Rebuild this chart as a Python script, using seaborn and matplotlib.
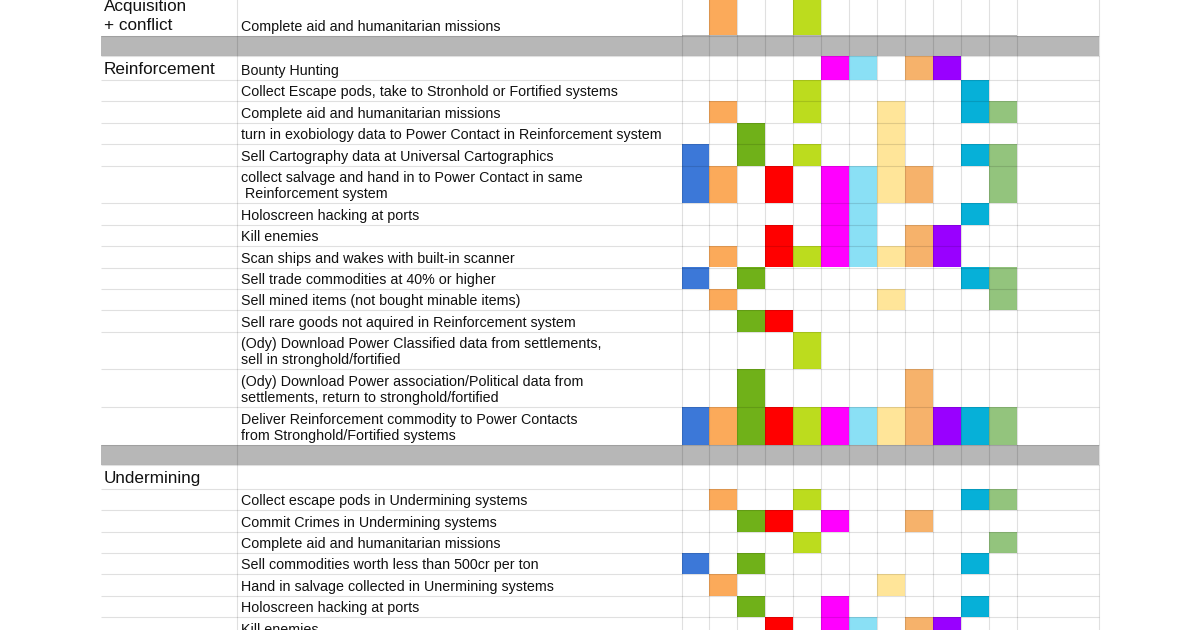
import numpy as np
import matplotlib
matplotlib.use("Agg")
import matplotlib.pyplot as plt
from matplotlib.colors import ListedColormap
import seaborn as sns

# one colour per activity column (12 filled columns, then an empty wide one)
col_colors = ["#3c78d8", "#fbaa5a", "#70b119", "#ff0000", "#bcdc1e", "#ff00ff",
              "#8ae0f5", "#ffe599", "#f6b26b", "#9900ff", "#06b0d8", "#93c47d"]
SEP_COLOR = "#b7b7b7"

# None label = grey separator row
row_groups = [
    "Acquisition\n+ conflict", "",
    "Reinforcement", "", "", "", "", "", "", "", "", "", "", "", "", "", "",
    "",
    "Undermining", "", "", "", "", "", "", "",
]
row_labels = [
    "Complete aid and humanitarian missions",
    None,
    "Bounty Hunting",
    "Collect Escape pods, take to Stronhold or Fortified systems",
    "Complete aid and humanitarian missions",
    "turn in exobiology data to Power Contact in Reinforcement system",
    "Sell Cartography data at Universal Cartographics",
    "collect salvage and hand in to Power Contact in same\n Reinforcement system",
    "Holoscreen hacking at ports",
    "Kill enemies",
    "Scan ships and wakes with built-in scanner",
    "Sell trade commodities at 40% or higher",
    "Sell mined items (not bought minable items)",
    "Sell rare goods not aquired in Reinforcement system",
    "(Ody) Download Power Classified data from settlements,\nsell in stronghold/fortified",
    "(Ody) Download Power association/Political data from\nsettlements, return to stronghold/fortified",
    "Deliver Reinforcement commodity to Power Contacts\nfrom Stronghold/Fortified systems",
    None,
    "",
    "Collect escape pods in Undermining systems",
    "Commit Crimes in Undermining systems",
    "Complete aid and humanitarian missions",
    "Sell commodities worth less than 500cr per ton",
    "Hand in salvage collected in Unermining systems",
    "Holoscreen hacking at ports",
    "Kill enemies",
]
# filled columns per row (1..12)
row_cells = [
    [2, 5],
    [],
    [6, 7, 9, 10],
    [5, 11],
    [2, 5, 8, 11, 12],
    [3, 8],
    [1, 3, 5, 8, 11, 12],
    [1, 2, 4, 6, 7, 8, 9, 12],
    [6, 7, 11],
    [4, 6, 7, 9, 10],
    [2, 4, 5, 6, 7, 8, 9, 10],
    [1, 3, 11, 12],
    [2, 8, 12],
    [3, 4],
    [5],
    [3, 9],
    [1, 2, 3, 4, 5, 6, 7, 8, 9, 10, 11, 12],
    [],
    [],
    [2, 5, 11, 12],
    [3, 4, 6, 9],
    [5, 12],
    [1, 3, 11],
    [2, 8],
    [3, 6, 11],
    [4, 6, 7, 9, 10],
]

# layout (pixels)
W, H = 1200, 630
row_heights = [37.5, 20.5, 24] + [21.4] * 4 + [37.7] + [21.4] * 6 + [37.7] * 3 \
    + [20.5, 23.5] + [21.4] * 7
Y0 = -2.0
X_LEFT, X_B, X_GRID0, X_GRID1, X_RIGHT = 101, 237, 681.5, 1016.5, 1099

edges = Y0 + np.concatenate([[0], np.cumsum(row_heights)])
n_cols = len(col_colors)
col_w = (X_GRID1 - X_GRID0) / n_cols

sns.set_style("white")
plt.rcParams["font.family"] = ["Liberation Sans", "DejaVu Sans"]

fig = plt.figure(figsize=(12, 6.3), dpi=100)

# background: grey separator bands across the text columns
bg = fig.add_axes([0, 0, 1, 1])
bg.set_xlim(0, W)
bg.set_ylim(H, 0)
bg.axis("off")
for i, lab in enumerate(row_labels):
    if lab is None:
        bg.fill_between([X_LEFT, X_RIGHT], edges[i], edges[i + 1], color=SEP_COLOR, lw=0)

# colour grid as a heatmap, rows repeated to match the sheet row heights
mat = np.zeros((len(row_labels), n_cols))
for i, (lab, cells) in enumerate(zip(row_labels, row_cells)):
    if lab is None:
        mat[i, :] = n_cols + 1
    for c in cells:
        mat[i, c - 1] = c
reps = np.round(np.array(row_heights) * 10).astype(int)
big = np.repeat(mat, reps, axis=0)
cmap = ListedColormap(["#ffffff"] + col_colors + [SEP_COLOR])

hax = fig.add_axes([X_GRID0 / W, (H - edges[-1]) / H,
                    (X_GRID1 - X_GRID0) / W, (edges[-1] - edges[0]) / H])
sns.heatmap(big, ax=hax, cmap=cmap, vmin=-0.5, vmax=n_cols + 1.5, cbar=False,
            xticklabels=False, yticklabels=False, linewidths=0)
hax.axis("off")

# overlay: grid lines and text
ov = fig.add_axes([0, 0, 1, 1], facecolor="none")
ov.set_xlim(0, W)
ov.set_ylim(H, 0)
ov.axis("off")
ov.hlines(edges[1:], X_LEFT, X_RIGHT, colors="black", alpha=0.12, lw=0.8)
vx = [X_B] + [X_GRID0 + k * col_w for k in range(n_cols + 1)] + [X_RIGHT]
ov.vlines(vx, edges[0], edges[-1], colors="black", alpha=0.12, lw=0.8)

for i, (grp, lab) in enumerate(zip(row_groups, row_labels)):
    bottom = edges[i + 1]
    if lab:
        lines = lab.split("\n")
        for j, line in enumerate(reversed(lines)):
            ov.text(X_B + 4, bottom - 5 - j * 16, line, fontsize=10.3,
                    va="baseline", ha="left", color="#111111")
    if grp:
        lines = grp.split("\n")
        for j, line in enumerate(reversed(lines)):
            ov.text(X_LEFT + 3, bottom - 6 - j * 18, line, fontsize=12.3,
                    va="baseline", ha="left", color="#111111")

fig.savefig("out.png", dpi=100)
